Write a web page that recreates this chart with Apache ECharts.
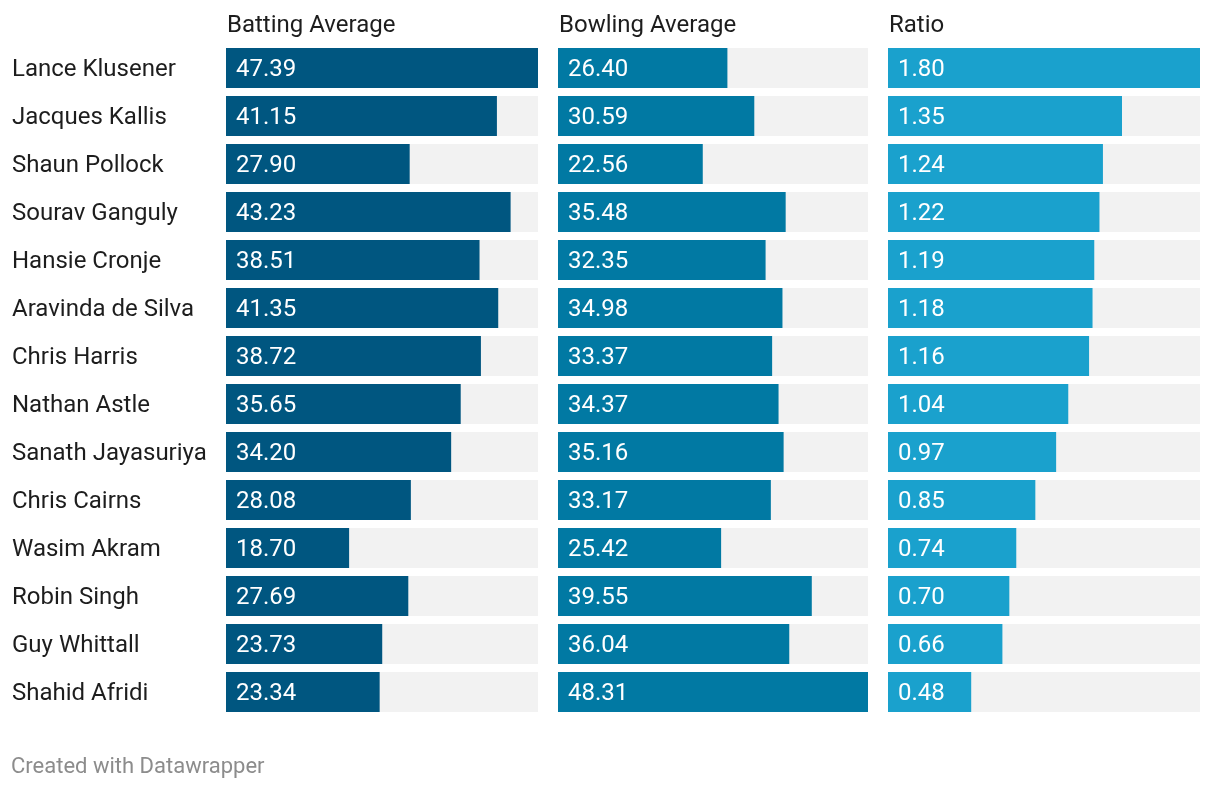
<!DOCTYPE html>
<html>
<head>
<meta charset="utf-8">
<script src="https://cdn.jsdelivr.net/npm/echarts@6/dist/echarts.min.js"></script>
<style>
html,body{margin:0;padding:0;background:#fff;}
#main{width:1220px;height:788px;}
</style>
</head>
<body>
<div id="main"></div>
<script>
const players = ["Lance Klusener","Jacques Kallis","Shaun Pollock","Sourav Ganguly","Hansie Cronje","Aravinda de Silva","Chris Harris","Nathan Astle","Sanath Jayasuriya","Chris Cairns","Wasim Akram","Robin Singh","Guy Whittall","Shahid Afridi"];
const battingAvg = [47.39,41.15,27.90,43.23,38.51,41.35,38.72,35.65,34.20,28.08,18.70,27.69,23.73,23.34];
const bowlingAvg = [26.40,30.59,22.56,35.48,32.35,34.98,33.37,34.37,35.16,33.17,25.42,39.55,36.04,48.31];
const ratio = [1.80,1.35,1.24,1.22,1.19,1.18,1.16,1.04,0.97,0.85,0.74,0.70,0.66,0.48];
const columnTitles = ["Batting Average","Bowling Average","Ratio"];

const FONT = "Roboto";
const panels = [
  {left:226,width:312,data:battingAvg,color:"#005680",title:columnTitles[0]},
  {left:558,width:310,data:bowlingAvg,color:"#0179a3",title:columnTitles[1]},
  {left:888,width:312,data:ratio,color:"#1aa1cd",title:columnTitles[2]}
];

const chart = echarts.init(document.getElementById('main'));
const option = {
  animation:false,
  textStyle:{fontFamily:FONT},
  title: panels.map(p => ({
    text:p.title, left:p.left+1, top:14, padding:0,
    textStyle:{fontFamily:FONT,fontSize:24,fontWeight:'normal',color:'#1d1d1d'}
  })).concat([{
    text:"Created with Datawrapper", left:11, top:756, padding:0,
    textStyle:{fontFamily:FONT,fontSize:22,fontWeight:'normal',color:'#8c8c8c'}
  }]),
  grid: panels.map(p => ({left:p.left,width:p.width,top:44,height:672,containLabel:false})),
  xAxis: panels.map((p,i) => ({
    type:'value', gridIndex:i, min:0, max:Math.max(...p.data),
    show:false, splitLine:{show:false}
  })),
  yAxis: panels.map((p,i) => ({
    type:'category', gridIndex:i, data:players, inverse:true,
    axisLine:{show:false}, axisTick:{show:false}, splitLine:{show:false},
    axisLabel:{show:i===0, align:'left', margin:214, fontFamily:FONT, fontSize:24, color:'#1d1d1d',
      formatter: v => '{n|' + v + '}',
      rich:{n:{fontFamily:FONT, fontSize:24, color:'#1d1d1d', padding:[4,0,0,0]}}}
  })),
  series: panels.map((p,i) => ({
    type:'bar', xAxisIndex:i, yAxisIndex:i, data:p.data, barWidth:40,
    itemStyle:{color:p.color},
    showBackground:true, backgroundStyle:{color:'#f2f2f2'},
    label:{show:true, position:'insideLeft', distance:10, offset:[0,2], color:'#fff', fontFamily:FONT, fontSize:24,
      formatter: d => d.value.toFixed(2)}
  }))
};
chart.setOption(option);
</script>
</body>
</html>
